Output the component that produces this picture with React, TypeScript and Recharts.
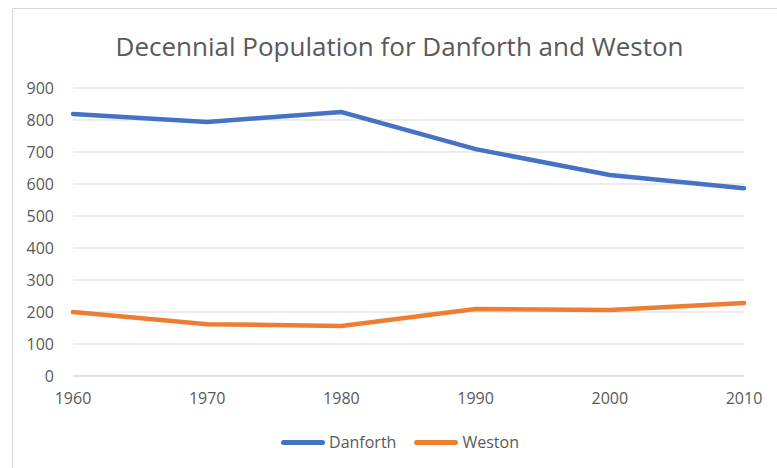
import { LineChart, Line, XAxis, YAxis, CartesianGrid, Legend } from "recharts";

const years = ["1960", "1970", "1980", "1990", "2000", "2010"];
const danforth = [819, 794, 825, 709, 628, 587];
const weston = [200, 162, 156, 209, 206, 228];
const yTicks = [0, 100, 200, 300, 400, 500, 600, 700, 800, 900];

const data = years.map((year, i) => ({
  year,
  Danforth: danforth[i],
  Weston: weston[i],
}));

const FONT = "'Open Sans', sans-serif";
const TEXT = "#595959";

const LegendContent = ({ payload }: any) => (
  <div style={{ display: "flex", justifyContent: "center", gap: 18, fontFamily: FONT, fontSize: 16, color: TEXT }}>
    {(payload || []).map((p: any) => (
      <div key={p.value} style={{ display: "flex", alignItems: "center" }}>
        <span style={{ display: "inline-block", width: 44, height: 5, borderRadius: 3, background: p.color, marginRight: 4 }} />
        <span>{p.value}</span>
      </div>
    ))}
  </div>
);

export default function App() {
  return (
    <div style={{ position: "relative", width: 777, height: 468, overflow: "hidden", background: "#fff" }}>
      <style>{`body{margin:0}`}</style>
      <div style={{ position: "absolute", left: 12, top: 8, width: 800, height: 500, border: "1px solid #D9D9D9" }} />
      <div style={{ position: "absolute", left: 0, top: 29, width: 799, textAlign: "center", fontFamily: FONT, fontSize: 26, color: TEXT, lineHeight: "34px" }}>
        Decennial Population for Danforth and Weston
      </div>
      <LineChart width={777} height={468} data={data} margin={{ top: 88, right: 33, bottom: 28, left: 0 }}>
        <CartesianGrid horizontal vertical={false} stroke="#D9D9D9" strokeWidth={1} />
        <XAxis
          dataKey="year"
          axisLine={{ stroke: "#D9D9D9" }}
          tickLine={false}
          tickSize={0}
          tickMargin={17}
          height={40}
          tick={{ fill: TEXT, fontSize: 16, fontFamily: FONT }}
        />
        <YAxis
          domain={[0, 900]}
          ticks={yTicks}
          axisLine={false}
          tickLine={false}
          tickSize={0}
          tickMargin={19}
          width={73}
          tick={{ fill: TEXT, fontSize: 16, fontFamily: FONT }}
        />
        <Legend
          verticalAlign="bottom"
          content={<LegendContent />}
          wrapperStyle={{ position: "absolute", top: 431, left: 0, width: 800, height: 24 }}
        />
        <Line type="linear" dataKey="Danforth" stroke="#4472C4" strokeWidth={4.5} dot={false} isAnimationActive={false} strokeLinecap="round" />
        <Line type="linear" dataKey="Weston" stroke="#ED7D31" strokeWidth={4.5} dot={false} isAnimationActive={false} strokeLinecap="round" />
      </LineChart>
    </div>
  );
}
